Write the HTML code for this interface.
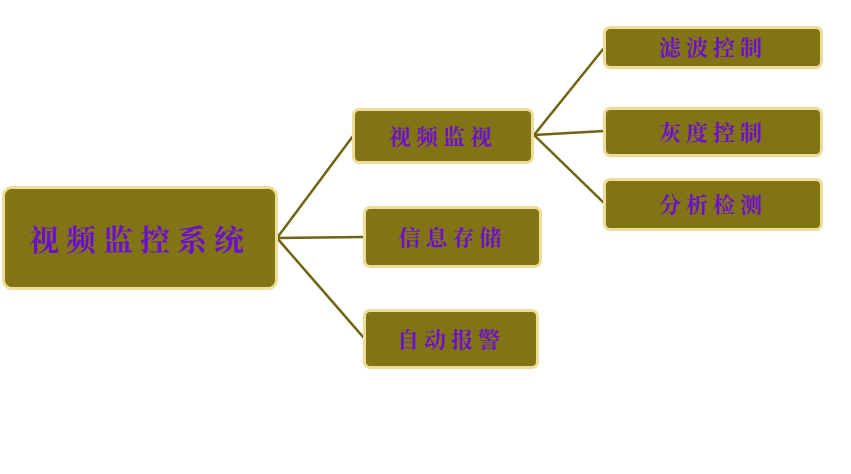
<!DOCTYPE html>
<html><head><meta charset="utf-8"><style>
body{margin:0;width:851px;height:474px;background:#fff;overflow:hidden;position:relative;font-family:"Liberation Serif","Noto Serif CJK SC",serif}
.b{position:absolute;box-sizing:border-box;background:#827414;border:3px solid #EEDD99;border-radius:7px;color:#6a0fd0;display:flex;align-items:center;justify-content:center;font-size:22px;letter-spacing:5px;white-space:nowrap;font-weight:bold}
svg{position:absolute;left:0;top:0}
</style></head><body>
<svg width="851" height="474"><g stroke="#6f6412" stroke-width="2.5" fill="none">
<line x1="277" y1="238" x2="353" y2="136"/><line x1="277" y1="238" x2="364" y2="237"/><line x1="277" y1="238" x2="364" y2="338"/>
<line x1="534" y1="135" x2="604" y2="48"/><line x1="534" y1="135" x2="604" y2="131"/><line x1="534" y1="135" x2="604" y2="203"/>
</g></svg>
<div class="b" style="left:2px;top:186px;width:276px;height:104px;font-size:30px;letter-spacing:7px;border-radius:10px">视频监控系统</div>
<div class="b" style="left:352px;top:108px;width:182px;height:56px">视频监视</div>
<div class="b" style="left:363px;top:206px;width:179px;height:62px">信息存储</div>
<div class="b" style="left:363px;top:309px;width:176px;height:60px">自动报警</div>
<div class="b" style="left:603px;top:26px;width:220px;height:43px">滤波控制</div>
<div class="b" style="left:603px;top:107px;width:220px;height:50px">灰度控制</div>
<div class="b" style="left:603px;top:178px;width:220px;height:53px">分析检测</div>
</body></html>
